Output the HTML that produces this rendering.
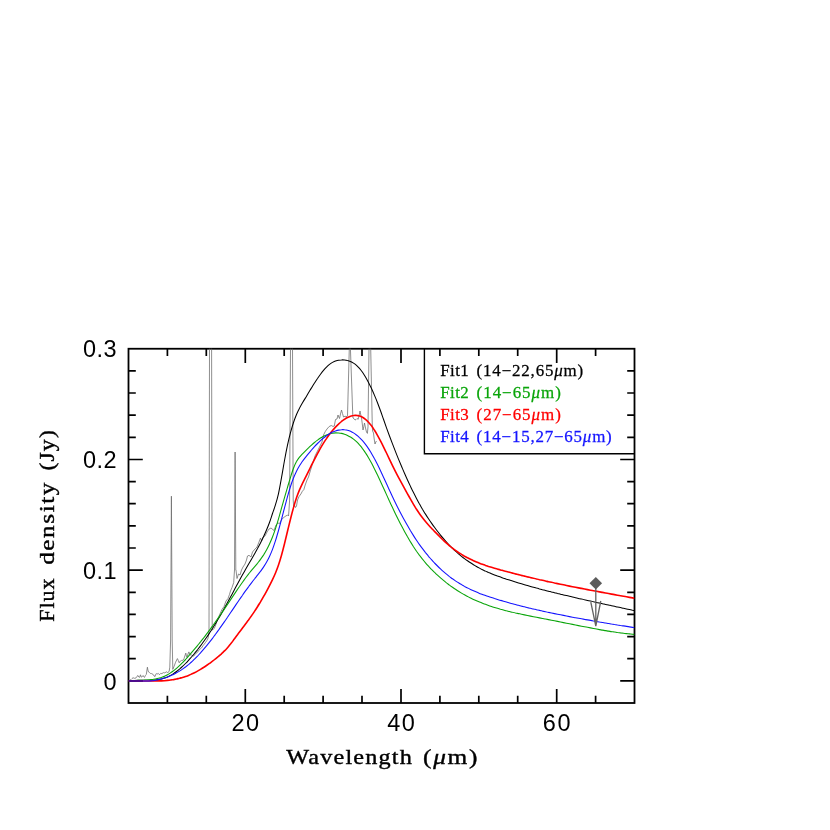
<!DOCTYPE html>
<html><head><meta charset="utf-8"><title>Flux density vs wavelength</title>
<style>html,body{margin:0;padding:0;background:#fff}svg{display:block;will-change:transform}text{font-family:"Liberation Sans",sans-serif}.tk{font-family:"Liberation Sans",sans-serif;font-size:23.5px;fill:#000}.ax{font-family:"Liberation Serif",serif;font-size:22px;fill:#000;stroke:#000;stroke-width:0.4px}.lg{font-family:"Liberation Serif",serif;font-size:16px;stroke-width:0.25px}</style></head><body>
<svg width="830" height="830" viewBox="0 0 830 830">
<rect width="830" height="830" fill="#fff"/>
<defs><clipPath id="c"><rect x="128.5" y="348.75" width="506.0" height="354.25"/></clipPath></defs>
<path d="M167.4 348.8v7.3M167.4 703v-7.3M206.3 348.8v7.3M206.3 703v-7.3M245.3 348.8v14.1M245.3 703v-14.1M284.2 348.8v7.3M284.2 703v-7.3M323.1 348.8v7.3M323.1 703v-7.3M362 348.8v7.3M362 703v-7.3M401 348.8v14.1M401 703v-14.1M439.9 348.8v7.3M439.9 703v-7.3M478.8 348.8v7.3M478.8 703v-7.3M517.7 348.8v7.3M517.7 703v-7.3M556.7 348.8v14.1M556.7 703v-14.1M595.6 348.8v7.3M595.6 703v-7.3M128.5 680.9h14.3M634.5 680.9h-14.3M128.5 658.7h7.3M634.5 658.7h-7.3M128.5 636.6h7.3M634.5 636.6h-7.3M128.5 614.4h7.3M634.5 614.4h-7.3M128.5 592.3h7.3M634.5 592.3h-7.3M128.5 570.2h14.3M634.5 570.2h-14.3M128.5 548h7.3M634.5 548h-7.3M128.5 525.9h7.3M634.5 525.9h-7.3M128.5 503.7h7.3M634.5 503.7h-7.3M128.5 481.6h7.3M634.5 481.6h-7.3M128.5 459.5h14.3M634.5 459.5h-14.3M128.5 437.3h7.3M634.5 437.3h-7.3M128.5 415.2h7.3M634.5 415.2h-7.3M128.5 393h7.3M634.5 393h-7.3M128.5 370.9h7.3M634.5 370.9h-7.3" stroke="#000" stroke-width="1.7" fill="none"/>
<rect x="128.5" y="348.75" width="506.0" height="354.25" fill="none" stroke="#000" stroke-width="1.8"/>
<g clip-path="url(#c)" fill="none" stroke-linejoin="round">
<path d="M129.3 680.6L131.1 679.5L132 678.6L133 677.7L134.4 678.3L135.8 678.1L137 676.3L138 675.5L138.8 677L139.5 677.4L140.5 674.8L141.2 677.2L141.8 677L143.1 675.5L143.8 676.8L144.5 677.4L145.4 675.4L146.3 674.5L147.4 667.2L147.9 670L148.5 671.9L149.4 672.4L150.3 673.4L151.6 673.6L153.2 674.5L154.1 676L155 676.6L155.6 674.6L156.1 673.7L157.2 674L158.3 673.4L159 674.4L159.7 674.5L160.8 673.3L161.9 673.7L163.3 672.6L164.8 673L165.8 672L166.9 671.9L167.6 672.6L168.4 672.3L169.2 671L169.8 667.2L170.6 640L171.4 496.2L172.2 640L172.8 669.4L174 666.5L175.6 662.2L177.4 658.6L178.3 660.5L179.2 662.8L180.4 661L181.6 660.4L182.8 660.4L184 658.6L185.8 653.1L186.4 656L187 657.3L188 654L188.9 651.9L190 654.9L191.5 655L193.7 656.1L195.5 653.6L197.3 652.5L199.5 649.5L201.5 648L203.3 645.3L205.5 642.5L206.8 640.6L208.1 638L209 632L209.5 348L211.6 348L212.2 630L213.2 629.5L214.2 628.4L215.2 626.5L217 621L219.5 615L221.9 609.6L224 606.5L226 601L228 598.5L229.5 594.4L230.5 591L232 587.5L233.7 582.6L234.5 570L235.1 452L235.8 570L236 570L237 578.5L238.5 574L240 575L241.5 570L243 567L245 564L246.5 560L247.5 556L249 555.3L251 557L252.5 552L255 549L257 547L259 542L260.5 538L261.5 541L263 537L265 536L267 532L269 529L271 528L274 530.5L276 525L278 523L279.5 523.5L282 519L285 516.5L287.5 515L288.5 516L289 510L289.6 500L290.5 348L292.5 348L293.2 500L293.7 507L294.4 505L295.5 507.5L296.5 506L297.5 500L299 496.6L300.9 494L302.4 491.2L303.8 489.7L305.2 485L307 480L308.5 477L310.3 470.9L312 465.5L315 456L318 450L320 446L322 442L323.5 435L325.4 431.3L327 429L328.5 427.2L330 426L331.6 425.6L333 426.5L334.3 426L335.5 419.5L337 419L338 415L338.8 417L339.5 418.5L340.5 414L341.5 410L342.5 413.5L343.5 417L345 416.3L347 416.5L347.5 415.9L349.3 348L350.4 348L352.8 415.9L353 418L354 418.6L355 420L356 419.6L357 418.5L358.2 419.3L359.2 415L360 411L360.8 415L361.5 418L362.3 424L363 430L363.8 426.5L364.5 423L365.5 428L366.5 432L367.4 433.4L368 426.8L369 348L370.7 348L372.3 426.8L372.6 431L373.5 433L374.2 439L375 444L375.8 442L376.5 441" stroke="#686868" stroke-width="0.75"/>
<path d="M128.5 680.9C129 680.8 130.5 680.7 131.5 680.6C132.5 680.5 133.5 680.4 134.5 680.4C135.5 680.3 136.5 680.3 137.5 680.3C138.5 680.3 139.5 680.3 140.5 680.3C141.5 680.3 142.5 680.3 143.5 680.3C144.5 680.3 145.5 680.3 146.5 680.3C147.5 680.3 148.5 680.3 149.5 680.3C150.5 680.3 151.5 680.2 152.5 680.2C153.5 680.1 154.5 680 155.5 679.9C156.5 679.8 157.5 679.7 158.5 679.5C159.5 679.3 160.5 679.1 161.5 678.9C162.5 678.7 163.5 678.4 164.5 678C165.5 677.7 166.5 677.3 167.5 676.9C168.5 676.5 169.5 676 170.5 675.4C171.5 674.9 172.5 674.3 173.5 673.6C174.5 673 175.5 672.3 176.5 671.5C177.5 670.7 178.5 669.9 179.5 669.1C180.5 668.2 181.5 667.3 182.5 666.4C183.5 665.5 184.5 664.5 185.5 663.5C186.5 662.5 187.5 661.4 188.5 660.3C189.5 659.2 190.5 658.1 191.5 657C192.5 655.9 193.5 654.7 194.5 653.5C195.5 652.3 196.5 651 197.5 649.8C198.5 648.5 199.5 647.2 200.5 645.9C201.5 644.6 202.5 643.2 203.5 641.8C204.5 640.4 205.5 639 206.5 637.5C207.5 636.1 208.5 634.6 209.5 633.1C210.5 631.6 211.5 630 212.5 628.5C213.5 626.9 214.5 625.3 215.5 623.6C216.5 622 217.5 620.3 218.5 618.6C219.5 616.9 220.5 615.2 221.5 613.4C222.5 611.7 223.5 609.9 224.5 608.1C225.5 606.3 226.5 604.4 227.5 602.6C228.5 600.7 229.5 598.9 230.5 597C231.5 595.2 232.5 593.3 233.5 591.4C234.5 589.5 235.5 587.7 236.5 585.8C237.5 584 238.5 582.1 239.5 580.3C240.5 578.4 241.5 576.6 242.5 574.8C243.5 573 244.5 571.3 245.5 569.5C246.5 567.8 247.5 566.1 248.5 564.3C249.5 562.6 250.5 560.9 251.5 559.2C252.5 557.5 253.5 555.8 254.5 554C255.5 552.2 256.5 550.4 257.5 548.6C258.5 546.7 259.5 544.8 260.5 542.9C261.5 540.9 262.5 538.9 263.5 536.7C264.5 534.6 265.5 532.4 266.5 530C267.5 527.7 268.5 525.2 269.5 522.5C270.5 519.7 271.5 516.5 272.5 513.5C273.5 510.6 274.5 508.1 275.5 504.7C276.5 501.4 277.5 498.1 278.5 493.6C279.5 489.1 280.5 483.3 281.5 477.7C282.5 472.2 283.5 465.9 284.5 460.5C285.5 455.1 286.5 449.9 287.5 445.2C288.5 440.6 289.5 436.4 290.5 432.7C291.5 428.9 292.5 425.6 293.5 422.5C294.5 419.5 295.5 416.9 296.5 414.5C297.5 412.1 298.5 410.1 299.5 408.2C300.5 406.2 301.5 404.6 302.5 402.8C303.5 401.1 304.5 399.5 305.5 397.9C306.5 396.2 307.5 394.5 308.5 392.8C309.5 391.2 310.5 389.5 311.5 387.9C312.5 386.2 313.5 384.6 314.5 383C315.5 381.5 316.5 379.9 317.5 378.5C318.5 377 319.5 375.5 320.5 374.2C321.5 372.9 322.5 371.6 323.5 370.4C324.5 369.2 325.5 368.1 326.5 367.1C327.5 366.1 328.5 365.2 329.5 364.4C330.5 363.7 331.5 363 332.5 362.4C333.5 361.9 334.5 361.4 335.5 361C336.5 360.7 337.5 360.4 338.5 360.2C339.5 360 340.5 359.9 341.5 359.9C342.5 359.8 343.5 359.9 344.5 360C345.5 360.1 346.5 360.3 347.5 360.6C348.5 360.8 349.5 361.1 350.5 361.6C351.5 362 352.5 362.5 353.5 363.1C354.5 363.7 355.5 364.4 356.5 365.3C357.5 366.2 358.5 367.2 359.5 368.3C360.5 369.5 361.5 370.8 362.5 372.2C363.5 373.7 364.5 375.3 365.5 377C366.5 378.7 367.5 380.6 368.5 382.5C369.5 384.5 370.5 386.5 371.5 388.6C372.5 390.8 373.5 393 374.5 395.4C375.5 397.7 376.5 400.1 377.5 402.7C378.5 405.3 379.5 408 380.5 410.8C381.5 413.5 382.5 416.5 383.5 419.3C384.5 422.2 385.5 425 386.5 427.8C387.5 430.6 388.5 433.3 389.5 436C390.5 438.7 391.5 441.3 392.5 443.9C393.5 446.5 394.5 449.1 395.5 451.6C396.5 454.2 397.5 456.6 398.5 459.1C399.5 461.5 400.5 463.9 401.5 466.3C402.5 468.6 403.5 471 404.5 473.2C405.5 475.5 406.5 477.8 407.5 480C408.5 482.2 409.5 484.3 410.5 486.4C411.5 488.5 412.5 490.6 413.5 492.6C414.5 494.6 415.5 496.6 416.5 498.5C417.5 500.4 418.5 502.3 419.5 504.1C420.5 505.8 421.5 507.6 422.5 509.3C423.5 510.9 424.5 512.6 425.5 514.1C426.5 515.7 427.5 517.2 428.5 518.7C429.5 520.2 430.5 521.7 431.5 523.1C432.5 524.6 433.5 526 434.5 527.3C435.5 528.7 436.5 530 437.5 531.3C438.5 532.6 439.5 533.9 440.5 535.1C441.5 536.4 442.5 537.6 443.5 538.7C444.5 539.9 445.5 541 446.5 542.1C447.5 543.2 448.5 544.3 449.5 545.3C450.5 546.4 451.5 547.4 452.5 548.4C453.5 549.3 454.5 550.3 455.5 551.2C456.5 552.1 457.5 553 458.5 553.8C459.5 554.7 460.5 555.5 461.5 556.3C462.5 557.1 463.5 557.9 464.5 558.6C465.5 559.4 466.5 560.1 467.5 560.8C468.5 561.5 469.5 562.2 470.5 562.8C471.5 563.5 472.5 564.1 473.5 564.7C474.5 565.3 475.5 565.9 476.5 566.5C477.5 567.1 478.5 567.6 479.5 568.1C480.5 568.7 481.5 569.2 482.5 569.7C483.5 570.2 484.5 570.6 485.5 571.1C486.5 571.6 487.5 572 488.5 572.5C489.5 572.9 490.5 573.3 491.5 573.7C492.5 574.1 493.5 574.5 494.5 574.9C495.5 575.3 496.5 575.7 497.5 576.1C498.5 576.4 499.5 576.8 500.5 577.1C501.5 577.5 502.5 577.8 503.5 578.2C504.5 578.5 505.5 578.8 506.5 579.2C507.5 579.5 508.5 579.8 509.5 580.1C510.5 580.4 511.5 580.8 512.5 581.1C513.5 581.4 514.5 581.7 515.5 582C516.5 582.3 517.5 582.6 518.5 582.9C519.5 583.2 520.5 583.5 521.5 583.8C522.5 584.1 523.5 584.4 524.5 584.7C525.5 585 526.5 585.3 527.5 585.5C528.5 585.8 529.5 586.1 530.5 586.4C531.5 586.7 532.5 587 533.5 587.2C534.5 587.5 535.5 587.8 536.5 588.1C537.5 588.3 538.5 588.6 539.5 588.9C540.5 589.1 541.5 589.4 542.5 589.7C543.5 589.9 544.5 590.2 545.5 590.4C546.5 590.7 547.5 591 548.5 591.2C549.5 591.5 550.5 591.7 551.5 592C552.5 592.2 553.5 592.5 554.5 592.7C555.5 593 556.5 593.2 557.5 593.5C558.5 593.7 559.5 594 560.5 594.2C561.5 594.4 562.5 594.7 563.5 594.9C564.5 595.2 565.5 595.4 566.5 595.6C567.5 595.9 568.5 596.1 569.5 596.3C570.5 596.6 571.5 596.8 572.5 597C573.5 597.3 574.5 597.5 575.5 597.7C576.5 598 577.5 598.2 578.5 598.4C579.5 598.6 580.5 598.9 581.5 599.1C582.5 599.3 583.5 599.5 584.5 599.8C585.5 600 586.5 600.2 587.5 600.4C588.5 600.7 589.5 600.9 590.5 601.1C591.5 601.3 592.5 601.5 593.5 601.8C594.5 602 595.5 602.2 596.5 602.4C597.5 602.6 598.5 602.9 599.5 603.1C600.5 603.3 601.5 603.5 602.5 603.7C603.5 603.9 604.5 604.2 605.5 604.4C606.5 604.6 607.5 604.8 608.5 605C609.5 605.2 610.5 605.5 611.5 605.7C612.5 605.9 613.5 606.1 614.5 606.3C615.5 606.5 616.5 606.8 617.5 607C618.5 607.2 619.5 607.4 620.5 607.6C621.5 607.8 622.5 608.1 623.5 608.3C624.5 608.5 625.5 608.7 626.5 608.9C627.5 609.2 628.5 609.4 629.5 609.6C630.5 609.8 631.7 610.1 632.5 610.3C633.3 610.4 634.2 610.6 634.5 610.7" stroke="#000" stroke-width="1.05"/>
<path d="M128.5 680.9C129 680.9 130.5 680.7 131.5 680.6C132.5 680.6 133.5 680.5 134.5 680.5C135.5 680.4 136.5 680.4 137.5 680.4C138.5 680.3 139.5 680.3 140.5 680.3C141.5 680.3 142.5 680.2 143.5 680.2C144.5 680.2 145.5 680.1 146.5 680.1C147.5 680 148.5 679.9 149.5 679.8C150.5 679.7 151.5 679.6 152.5 679.5C153.5 679.4 154.5 679.2 155.5 679C156.5 678.8 157.5 678.6 158.5 678.3C159.5 678 160.5 677.7 161.5 677.4C162.5 677 163.5 676.7 164.5 676.2C165.5 675.8 166.5 675.3 167.5 674.7C168.5 674.2 169.5 673.6 170.5 672.9C171.5 672.3 172.5 671.5 173.5 670.8C174.5 670 175.5 669.2 176.5 668.3C177.5 667.4 178.5 666.5 179.5 665.6C180.5 664.6 181.5 663.6 182.5 662.6C183.5 661.6 184.5 660.5 185.5 659.5C186.5 658.4 187.5 657.3 188.5 656.1C189.5 655 190.5 653.9 191.5 652.7C192.5 651.6 193.5 650.4 194.5 649.2C195.5 648 196.5 646.8 197.5 645.6C198.5 644.4 199.5 643.1 200.5 641.9C201.5 640.6 202.5 639.3 203.5 638.1C204.5 636.8 205.5 635.5 206.5 634.1C207.5 632.8 208.5 631.5 209.5 630.1C210.5 628.8 211.5 627.4 212.5 626.1C213.5 624.7 214.5 623.3 215.5 621.9C216.5 620.5 217.5 619.1 218.5 617.6C219.5 616.2 220.5 614.8 221.5 613.3C222.5 611.8 223.5 610.4 224.5 608.9C225.5 607.4 226.5 605.9 227.5 604.4C228.5 602.9 229.5 601.4 230.5 599.9C231.5 598.4 232.5 596.9 233.5 595.4C234.5 593.9 235.5 592.4 236.5 590.9C237.5 589.4 238.5 587.9 239.5 586.5C240.5 585 241.5 583.6 242.5 582.2C243.5 580.8 244.5 579.4 245.5 578C246.5 576.7 247.5 575.4 248.5 574.1C249.5 572.9 250.5 571.6 251.5 570.4C252.5 569.2 253.5 568.1 254.5 566.9C255.5 565.7 256.5 564.5 257.5 563.3C258.5 562 259.5 560.8 260.5 559.4C261.5 558 262.5 556.6 263.5 555.1C264.5 553.5 265.5 551.8 266.5 550C267.5 548.2 268.5 546.2 269.5 544C270.5 541.8 271.5 539.5 272.5 537C273.5 534.4 274.5 531.6 275.5 528.6C276.5 525.6 277.5 522.3 278.5 518.9C279.5 515.5 280.5 511.8 281.5 508.2C282.5 504.7 283.5 501.1 284.5 497.6C285.5 494.1 286.5 490.7 287.5 487.3C288.5 483.9 289.5 480.4 290.5 477.3C291.5 474.1 292.5 470.9 293.5 468.3C294.5 465.6 295.5 463.4 296.5 461.6C297.5 459.7 298.5 458.5 299.5 457.2C300.5 455.9 301.5 454.9 302.5 453.8C303.5 452.8 304.5 451.8 305.5 450.8C306.5 449.8 307.5 448.8 308.5 447.9C309.5 446.9 310.5 446 311.5 445.1C312.5 444.2 313.5 443.3 314.5 442.5C315.5 441.6 316.5 440.8 317.5 440.1C318.5 439.3 319.5 438.6 320.5 438C321.5 437.4 322.5 436.8 323.5 436.3C324.5 435.8 325.5 435.3 326.5 434.9C327.5 434.5 328.5 434.2 329.5 433.9C330.5 433.6 331.5 433.4 332.5 433.2C333.5 433.1 334.5 433 335.5 432.9C336.5 432.9 337.5 432.9 338.5 433C339.5 433.1 340.5 433.2 341.5 433.4C342.5 433.6 343.5 433.9 344.5 434.2C345.5 434.5 346.5 434.9 347.5 435.4C348.5 435.9 349.5 436.4 350.5 437C351.5 437.6 352.5 438.3 353.5 439.1C354.5 439.9 355.5 440.8 356.5 441.7C357.5 442.7 358.5 443.7 359.5 444.9C360.5 446 361.5 447.2 362.5 448.6C363.5 449.9 364.5 451.3 365.5 452.9C366.5 454.4 367.5 456 368.5 457.7C369.5 459.5 370.5 461.3 371.5 463.1C372.5 465 373.5 467 374.5 469C375.5 471 376.5 473 377.5 475.1C378.5 477.2 379.5 479.4 380.5 481.5C381.5 483.7 382.5 485.9 383.5 488C384.5 490.2 385.5 492.4 386.5 494.6C387.5 496.8 388.5 499 389.5 501.2C390.5 503.3 391.5 505.5 392.5 507.6C393.5 509.7 394.5 511.8 395.5 513.9C396.5 515.9 397.5 517.9 398.5 519.9C399.5 521.9 400.5 523.9 401.5 525.8C402.5 527.7 403.5 529.6 404.5 531.4C405.5 533.2 406.5 535 407.5 536.8C408.5 538.5 409.5 540.2 410.5 541.9C411.5 543.5 412.5 545.1 413.5 546.7C414.5 548.2 415.5 549.7 416.5 551.2C417.5 552.6 418.5 554 419.5 555.3C420.5 556.7 421.5 557.9 422.5 559.2C423.5 560.4 424.5 561.6 425.5 562.8C426.5 564 427.5 565.1 428.5 566.2C429.5 567.3 430.5 568.3 431.5 569.4C432.5 570.4 433.5 571.4 434.5 572.4C435.5 573.3 436.5 574.3 437.5 575.2C438.5 576.1 439.5 577 440.5 577.9C441.5 578.8 442.5 579.6 443.5 580.4C444.5 581.3 445.5 582.1 446.5 582.9C447.5 583.6 448.5 584.4 449.5 585.1C450.5 585.9 451.5 586.6 452.5 587.3C453.5 588 454.5 588.7 455.5 589.3C456.5 590 457.5 590.7 458.5 591.3C459.5 591.9 460.5 592.5 461.5 593.1C462.5 593.7 463.5 594.3 464.5 594.8C465.5 595.4 466.5 595.9 467.5 596.4C468.5 597 469.5 597.5 470.5 598C471.5 598.5 472.5 598.9 473.5 599.4C474.5 599.9 475.5 600.3 476.5 600.7C477.5 601.2 478.5 601.6 479.5 602C480.5 602.4 481.5 602.8 482.5 603.2C483.5 603.6 484.5 604 485.5 604.3C486.5 604.7 487.5 605.1 488.5 605.4C489.5 605.8 490.5 606.1 491.5 606.4C492.5 606.8 493.5 607.1 494.5 607.4C495.5 607.7 496.5 608 497.5 608.3C498.5 608.6 499.5 608.9 500.5 609.2C501.5 609.4 502.5 609.7 503.5 610C504.5 610.3 505.5 610.5 506.5 610.8C507.5 611 508.5 611.3 509.5 611.5C510.5 611.8 511.5 612 512.5 612.3C513.5 612.5 514.5 612.7 515.5 613C516.5 613.2 517.5 613.4 518.5 613.6C519.5 613.9 520.5 614.1 521.5 614.3C522.5 614.5 523.5 614.7 524.5 614.9C525.5 615.1 526.5 615.3 527.5 615.5C528.5 615.7 529.5 615.9 530.5 616.1C531.5 616.3 532.5 616.5 533.5 616.7C534.5 616.9 535.5 617.1 536.5 617.3C537.5 617.5 538.5 617.7 539.5 617.9C540.5 618.1 541.5 618.3 542.5 618.5C543.5 618.7 544.5 618.8 545.5 619C546.5 619.2 547.5 619.4 548.5 619.6C549.5 619.8 550.5 620 551.5 620.2C552.5 620.4 553.5 620.6 554.5 620.8C555.5 621 556.5 621.2 557.5 621.4C558.5 621.6 559.5 621.8 560.5 622C561.5 622.2 562.5 622.4 563.5 622.6C564.5 622.8 565.5 623 566.5 623.2C567.5 623.4 568.5 623.6 569.5 623.8C570.5 624 571.5 624.2 572.5 624.4C573.5 624.6 574.5 624.8 575.5 625C576.5 625.2 577.5 625.4 578.5 625.6C579.5 625.8 580.5 626 581.5 626.2C582.5 626.4 583.5 626.6 584.5 626.8C585.5 627 586.5 627.2 587.5 627.3C588.5 627.5 589.5 627.7 590.5 627.9C591.5 628.1 592.5 628.3 593.5 628.5C594.5 628.7 595.5 628.9 596.5 629C597.5 629.2 598.5 629.4 599.5 629.6C600.5 629.8 601.5 629.9 602.5 630.1C603.5 630.3 604.5 630.4 605.5 630.6C606.5 630.8 607.5 630.9 608.5 631.1C609.5 631.3 610.5 631.4 611.5 631.6C612.5 631.7 613.5 631.9 614.5 632C615.5 632.2 616.5 632.3 617.5 632.5C618.5 632.6 619.5 632.7 620.5 632.9C621.5 633 622.5 633.1 623.5 633.2C624.5 633.4 625.5 633.5 626.5 633.6C627.5 633.7 628.5 633.8 629.5 633.9C630.5 634 631.7 634.1 632.5 634.2C633.3 634.3 634.2 634.4 634.5 634.4" stroke="#0aa50a" stroke-width="1.08"/>
<path d="M128.5 680.9C129 680.9 130.5 680.8 131.5 680.8C132.5 680.8 133.5 680.8 134.5 680.8C135.5 680.9 136.5 680.9 137.5 680.9C138.5 680.9 139.5 680.9 140.5 680.9C141.5 680.9 142.5 680.9 143.5 680.9C144.5 680.9 145.5 680.9 146.5 680.9C147.5 680.9 148.5 680.9 149.5 680.9C150.5 680.9 151.5 680.9 152.5 680.9C153.5 680.9 154.5 680.9 155.5 680.9C156.5 680.9 157.5 680.9 158.5 680.9C159.5 680.9 160.5 680.9 161.5 680.9C162.5 680.8 163.5 680.7 164.5 680.7C165.5 680.6 166.5 680.5 167.5 680.4C168.5 680.3 169.5 680.2 170.5 680C171.5 679.9 172.5 679.7 173.5 679.6C174.5 679.4 175.5 679.2 176.5 679C177.5 678.8 178.5 678.5 179.5 678.3C180.5 678 181.5 677.8 182.5 677.5C183.5 677.2 184.5 676.9 185.5 676.5C186.5 676.2 187.5 675.8 188.5 675.4C189.5 675 190.5 674.6 191.5 674.1C192.5 673.7 193.5 673.2 194.5 672.7C195.5 672.2 196.5 671.7 197.5 671.1C198.5 670.6 199.5 670 200.5 669.4C201.5 668.8 202.5 668.2 203.5 667.5C204.5 666.9 205.5 666.2 206.5 665.5C207.5 664.8 208.5 664.1 209.5 663.4C210.5 662.7 211.5 661.9 212.5 661.2C213.5 660.4 214.5 659.6 215.5 658.8C216.5 658 217.5 657.2 218.5 656.4C219.5 655.5 220.5 654.7 221.5 653.8C222.5 652.8 223.5 651.9 224.5 650.9C225.5 649.9 226.5 648.8 227.5 647.7C228.5 646.6 229.5 645.3 230.5 644.1C231.5 642.8 232.5 641.5 233.5 640.1C234.5 638.8 235.5 637.4 236.5 636C237.5 634.7 238.5 633.3 239.5 632C240.5 630.7 241.5 629.4 242.5 628C243.5 626.7 244.5 625.4 245.5 624C246.5 622.7 247.5 621.3 248.5 620C249.5 618.6 250.5 617.2 251.5 615.8C252.5 614.3 253.5 612.9 254.5 611.4C255.5 609.9 256.5 608.3 257.5 606.7C258.5 605.2 259.5 603.5 260.5 601.9C261.5 600.2 262.5 598.5 263.5 596.7C264.5 595 265.5 593.2 266.5 591.3C267.5 589.5 268.5 587.6 269.5 585.6C270.5 583.7 271.5 581.7 272.5 579.6C273.5 577.5 274.5 575.4 275.5 573C276.5 570.5 277.5 568 278.5 565C279.5 562 280.5 558.7 281.5 555.2C282.5 551.6 283.5 547.7 284.5 543.7C285.5 539.7 286.5 535.5 287.5 531.3C288.5 527.2 289.5 523 290.5 519C291.5 515.1 292.5 511.1 293.5 507.6C294.5 504 295.5 500.8 296.5 497.8C297.5 494.9 298.5 492.3 299.5 489.9C300.5 487.5 301.5 485.4 302.5 483.3C303.5 481.2 304.5 479.3 305.5 477.3C306.5 475.3 307.5 473.3 308.5 471.3C309.5 469.3 310.5 467.2 311.5 465.2C312.5 463.2 313.5 461.2 314.5 459.3C315.5 457.4 316.5 455.5 317.5 453.6C318.5 451.8 319.5 449.9 320.5 448.2C321.5 446.5 322.5 444.8 323.5 443.2C324.5 441.6 325.5 440 326.5 438.6C327.5 437.1 328.5 435.7 329.5 434.3C330.5 433 331.5 431.7 332.5 430.5C333.5 429.3 334.5 428.2 335.5 427.1C336.5 426 337.5 425 338.5 424.1C339.5 423.1 340.5 422.3 341.5 421.5C342.5 420.7 343.5 419.9 344.5 419.3C345.5 418.6 346.5 418 347.5 417.5C348.5 417 349.5 416.6 350.5 416.2C351.5 415.9 352.5 415.6 353.5 415.5C354.5 415.3 355.5 415.3 356.5 415.4C357.5 415.4 358.5 415.6 359.5 415.9C360.5 416.2 361.5 416.6 362.5 417.2C363.5 417.8 364.5 418.5 365.5 419.3C366.5 420.1 367.5 421.1 368.5 422.2C369.5 423.3 370.5 424.5 371.5 425.8C372.5 427.2 373.5 428.7 374.5 430.3C375.5 431.8 376.5 433.5 377.5 435.3C378.5 437.1 379.5 439 380.5 440.9C381.5 442.8 382.5 444.8 383.5 446.8C384.5 448.9 385.5 451 386.5 453C387.5 455.1 388.5 457.2 389.5 459.3C390.5 461.4 391.5 463.5 392.5 465.6C393.5 467.6 394.5 469.6 395.5 471.6C396.5 473.6 397.5 475.5 398.5 477.3C399.5 479.2 400.5 481 401.5 482.9C402.5 484.7 403.5 486.5 404.5 488.3C405.5 490.2 406.5 492 407.5 493.8C408.5 495.6 409.5 497.4 410.5 499.2C411.5 501 412.5 502.7 413.5 504.4C414.5 506.1 415.5 507.7 416.5 509.3C417.5 510.8 418.5 512.3 419.5 513.7C420.5 515.2 421.5 516.5 422.5 517.8C423.5 519.1 424.5 520.4 425.5 521.6C426.5 522.8 427.5 523.9 428.5 525C429.5 526.1 430.5 527.2 431.5 528.2C432.5 529.3 433.5 530.3 434.5 531.4C435.5 532.4 436.5 533.4 437.5 534.4C438.5 535.5 439.5 536.5 440.5 537.5C441.5 538.5 442.5 539.5 443.5 540.4C444.5 541.4 445.5 542.3 446.5 543.2C447.5 544.1 448.5 545 449.5 545.8C450.5 546.6 451.5 547.4 452.5 548.2C453.5 549 454.5 549.7 455.5 550.4C456.5 551.1 457.5 551.8 458.5 552.5C459.5 553.1 460.5 553.8 461.5 554.4C462.5 555 463.5 555.6 464.5 556.2C465.5 556.7 466.5 557.3 467.5 557.8C468.5 558.3 469.5 558.8 470.5 559.3C471.5 559.8 472.5 560.3 473.5 560.7C474.5 561.2 475.5 561.6 476.5 562C477.5 562.4 478.5 562.8 479.5 563.2C480.5 563.6 481.5 564 482.5 564.3C483.5 564.7 484.5 565 485.5 565.4C486.5 565.7 487.5 566 488.5 566.4C489.5 566.7 490.5 567 491.5 567.3C492.5 567.6 493.5 567.9 494.5 568.2C495.5 568.5 496.5 568.8 497.5 569.1C498.5 569.3 499.5 569.6 500.5 569.9C501.5 570.2 502.5 570.4 503.5 570.7C504.5 571 505.5 571.3 506.5 571.5C507.5 571.8 508.5 572.1 509.5 572.3C510.5 572.6 511.5 572.9 512.5 573.1C513.5 573.4 514.5 573.6 515.5 573.9C516.5 574.1 517.5 574.4 518.5 574.6C519.5 574.9 520.5 575.1 521.5 575.4C522.5 575.6 523.5 575.9 524.5 576.1C525.5 576.4 526.5 576.6 527.5 576.9C528.5 577.1 529.5 577.3 530.5 577.6C531.5 577.8 532.5 578 533.5 578.3C534.5 578.5 535.5 578.7 536.5 579C537.5 579.2 538.5 579.4 539.5 579.7C540.5 579.9 541.5 580.1 542.5 580.3C543.5 580.6 544.5 580.8 545.5 581C546.5 581.2 547.5 581.5 548.5 581.7C549.5 581.9 550.5 582.1 551.5 582.3C552.5 582.5 553.5 582.7 554.5 583C555.5 583.2 556.5 583.4 557.5 583.6C558.5 583.8 559.5 584 560.5 584.2C561.5 584.4 562.5 584.6 563.5 584.8C564.5 585.1 565.5 585.3 566.5 585.5C567.5 585.7 568.5 585.9 569.5 586.1C570.5 586.3 571.5 586.5 572.5 586.7C573.5 586.9 574.5 587.1 575.5 587.3C576.5 587.5 577.5 587.7 578.5 587.9C579.5 588.1 580.5 588.2 581.5 588.4C582.5 588.6 583.5 588.8 584.5 589C585.5 589.2 586.5 589.4 587.5 589.6C588.5 589.8 589.5 590 590.5 590.2C591.5 590.4 592.5 590.6 593.5 590.7C594.5 590.9 595.5 591.1 596.5 591.3C597.5 591.5 598.5 591.7 599.5 591.9C600.5 592.1 601.5 592.2 602.5 592.4C603.5 592.6 604.5 592.8 605.5 593C606.5 593.2 607.5 593.4 608.5 593.5C609.5 593.7 610.5 593.9 611.5 594.1C612.5 594.3 613.5 594.5 614.5 594.6C615.5 594.8 616.5 595 617.5 595.2C618.5 595.4 619.5 595.6 620.5 595.7C621.5 595.9 622.5 596.1 623.5 596.3C624.5 596.5 625.5 596.7 626.5 596.8C627.5 597 628.5 597.2 629.5 597.4C630.5 597.6 631.7 597.8 632.5 597.9C633.3 598.1 634.2 598.3 634.5 598.3" stroke="#ff0000" stroke-width="1.6"/>
<path d="M128.5 680.8C129 680.8 130.5 680.9 131.5 680.9C132.5 680.9 133.5 680.9 134.5 680.9C135.5 680.9 136.5 680.9 137.5 680.9C138.5 680.9 139.5 680.9 140.5 680.9C141.5 680.9 142.5 680.9 143.5 680.9C144.5 680.9 145.5 680.9 146.5 680.9C147.5 680.9 148.5 680.9 149.5 680.9C150.5 680.9 151.5 680.8 152.5 680.7C153.5 680.5 154.5 680.4 155.5 680.2C156.5 680 157.5 679.8 158.5 679.6C159.5 679.4 160.5 679.1 161.5 678.9C162.5 678.6 163.5 678.3 164.5 678C165.5 677.7 166.5 677.3 167.5 677C168.5 676.6 169.5 676.2 170.5 675.8C171.5 675.3 172.5 674.9 173.5 674.4C174.5 673.9 175.5 673.4 176.5 672.8C177.5 672.3 178.5 671.7 179.5 671.1C180.5 670.5 181.5 669.8 182.5 669.1C183.5 668.4 184.5 667.7 185.5 667C186.5 666.2 187.5 665.4 188.5 664.6C189.5 663.7 190.5 662.9 191.5 662C192.5 661 193.5 660.1 194.5 659.1C195.5 658.1 196.5 657.1 197.5 656.1C198.5 655 199.5 654 200.5 652.9C201.5 651.7 202.5 650.6 203.5 649.4C204.5 648.3 205.5 647.1 206.5 645.9C207.5 644.7 208.5 643.4 209.5 642.1C210.5 640.9 211.5 639.6 212.5 638.3C213.5 637 214.5 635.6 215.5 634.3C216.5 632.9 217.5 631.5 218.5 630.2C219.5 628.8 220.5 627.4 221.5 625.9C222.5 624.5 223.5 623.1 224.5 621.6C225.5 620.2 226.5 618.7 227.5 617.3C228.5 615.8 229.5 614.3 230.5 612.8C231.5 611.4 232.5 609.9 233.5 608.4C234.5 606.9 235.5 605.4 236.5 603.9C237.5 602.5 238.5 601 239.5 599.5C240.5 598.1 241.5 596.6 242.5 595.2C243.5 593.7 244.5 592.3 245.5 590.9C246.5 589.5 247.5 588.1 248.5 586.8C249.5 585.4 250.5 584.1 251.5 582.8C252.5 581.5 253.5 580.2 254.5 579C255.5 577.7 256.5 576.5 257.5 575.2C258.5 573.9 259.5 572.7 260.5 571.3C261.5 570 262.5 568.6 263.5 567.1C264.5 565.6 265.5 564.1 266.5 562.3C267.5 560.5 268.5 558.7 269.5 556.5C270.5 554.4 271.5 552 272.5 549.4C273.5 546.8 274.5 543.8 275.5 540.7C276.5 537.5 277.5 534 278.5 530.5C279.5 526.9 280.5 523.1 281.5 519.3C282.5 515.6 283.5 511.7 284.5 507.9C285.5 504.1 286.5 500.3 287.5 496.7C288.5 493.1 289.5 489.6 290.5 486.5C291.5 483.4 292.5 480.5 293.5 478C294.5 475.4 295.5 473.3 296.5 471.2C297.5 469.2 298.5 467.5 299.5 465.8C300.5 464.2 301.5 462.8 302.5 461.3C303.5 459.9 304.5 458.7 305.5 457.4C306.5 456.1 307.5 454.8 308.5 453.6C309.5 452.4 310.5 451.2 311.5 450C312.5 448.8 313.5 447.7 314.5 446.6C315.5 445.5 316.5 444.5 317.5 443.5C318.5 442.5 319.5 441.5 320.5 440.6C321.5 439.7 322.5 438.8 323.5 438C324.5 437.2 325.5 436.4 326.5 435.7C327.5 435 328.5 434.3 329.5 433.7C330.5 433.1 331.5 432.6 332.5 432.1C333.5 431.7 334.5 431.2 335.5 430.9C336.5 430.6 337.5 430.3 338.5 430.1C339.5 429.9 340.5 429.7 341.5 429.7C342.5 429.6 343.5 429.6 344.5 429.8C345.5 429.9 346.5 430 347.5 430.3C348.5 430.6 349.5 430.9 350.5 431.3C351.5 431.8 352.5 432.3 353.5 432.9C354.5 433.5 355.5 434.2 356.5 435C357.5 435.7 358.5 436.6 359.5 437.6C360.5 438.5 361.5 439.6 362.5 440.7C363.5 441.8 364.5 443.1 365.5 444.4C366.5 445.7 367.5 447.1 368.5 448.6C369.5 450.1 370.5 451.8 371.5 453.4C372.5 455.1 373.5 456.9 374.5 458.8C375.5 460.6 376.5 462.6 377.5 464.6C378.5 466.6 379.5 468.6 380.5 470.7C381.5 472.8 382.5 475 383.5 477.2C384.5 479.3 385.5 481.6 386.5 483.8C387.5 485.9 388.5 488.2 389.5 490.3C390.5 492.5 391.5 494.6 392.5 496.7C393.5 498.8 394.5 500.9 395.5 502.9C396.5 505 397.5 507 398.5 508.9C399.5 510.9 400.5 512.8 401.5 514.7C402.5 516.6 403.5 518.5 404.5 520.3C405.5 522.1 406.5 523.9 407.5 525.6C408.5 527.4 409.5 529.1 410.5 530.8C411.5 532.4 412.5 534 413.5 535.6C414.5 537.2 415.5 538.7 416.5 540.2C417.5 541.7 418.5 543.2 419.5 544.6C420.5 546 421.5 547.4 422.5 548.7C423.5 550 424.5 551.3 425.5 552.6C426.5 553.8 427.5 555.1 428.5 556.3C429.5 557.4 430.5 558.6 431.5 559.7C432.5 560.8 433.5 561.9 434.5 563C435.5 564 436.5 565 437.5 566C438.5 567 439.5 568 440.5 568.9C441.5 569.9 442.5 570.8 443.5 571.6C444.5 572.5 445.5 573.4 446.5 574.2C447.5 575 448.5 575.8 449.5 576.6C450.5 577.3 451.5 578.1 452.5 578.8C453.5 579.5 454.5 580.2 455.5 580.9C456.5 581.5 457.5 582.2 458.5 582.8C459.5 583.5 460.5 584.1 461.5 584.6C462.5 585.2 463.5 585.8 464.5 586.4C465.5 586.9 466.5 587.4 467.5 587.9C468.5 588.5 469.5 589 470.5 589.4C471.5 589.9 472.5 590.4 473.5 590.8C474.5 591.3 475.5 591.7 476.5 592.1C477.5 592.6 478.5 593 479.5 593.4C480.5 593.8 481.5 594.1 482.5 594.5C483.5 594.9 484.5 595.2 485.5 595.6C486.5 596 487.5 596.3 488.5 596.6C489.5 597 490.5 597.3 491.5 597.6C492.5 597.9 493.5 598.2 494.5 598.6C495.5 598.9 496.5 599.2 497.5 599.5C498.5 599.8 499.5 600.1 500.5 600.4C501.5 600.6 502.5 600.9 503.5 601.2C504.5 601.5 505.5 601.8 506.5 602.1C507.5 602.4 508.5 602.6 509.5 602.9C510.5 603.2 511.5 603.5 512.5 603.7C513.5 604 514.5 604.3 515.5 604.5C516.5 604.8 517.5 605 518.5 605.3C519.5 605.6 520.5 605.8 521.5 606.1C522.5 606.3 523.5 606.6 524.5 606.8C525.5 607.1 526.5 607.3 527.5 607.6C528.5 607.8 529.5 608.1 530.5 608.3C531.5 608.5 532.5 608.8 533.5 609C534.5 609.2 535.5 609.5 536.5 609.7C537.5 609.9 538.5 610.2 539.5 610.4C540.5 610.6 541.5 610.8 542.5 611.1C543.5 611.3 544.5 611.5 545.5 611.7C546.5 611.9 547.5 612.1 548.5 612.4C549.5 612.6 550.5 612.8 551.5 613C552.5 613.2 553.5 613.4 554.5 613.6C555.5 613.8 556.5 614 557.5 614.2C558.5 614.4 559.5 614.6 560.5 614.8C561.5 615 562.5 615.2 563.5 615.4C564.5 615.6 565.5 615.8 566.5 616C567.5 616.2 568.5 616.4 569.5 616.6C570.5 616.8 571.5 617 572.5 617.2C573.5 617.4 574.5 617.5 575.5 617.7C576.5 617.9 577.5 618.1 578.5 618.3C579.5 618.5 580.5 618.7 581.5 618.8C582.5 619 583.5 619.2 584.5 619.4C585.5 619.5 586.5 619.7 587.5 619.9C588.5 620.1 589.5 620.3 590.5 620.4C591.5 620.6 592.5 620.8 593.5 621C594.5 621.1 595.5 621.3 596.5 621.5C597.5 621.6 598.5 621.8 599.5 622C600.5 622.1 601.5 622.3 602.5 622.5C603.5 622.7 604.5 622.8 605.5 623C606.5 623.2 607.5 623.3 608.5 623.5C609.5 623.7 610.5 623.8 611.5 624C612.5 624.1 613.5 624.3 614.5 624.5C615.5 624.6 616.5 624.8 617.5 625C618.5 625.1 619.5 625.3 620.5 625.5C621.5 625.6 622.5 625.8 623.5 625.9C624.5 626.1 625.5 626.3 626.5 626.4C627.5 626.6 628.5 626.8 629.5 626.9C630.5 627.1 631.7 627.3 632.5 627.4C633.3 627.5 634.2 627.7 634.5 627.7" stroke="#1414ff" stroke-width="1.08"/>
<path d="M128.5 680.9H143" stroke="#4b0a8c" stroke-width="1.9"/><path d="M143 680.9H149.5" stroke="#6a22ae" stroke-width="1.6"/>
</g>
<path d="M595.8 583.2L595.8 626M590.8 602.2L595.8 626L600.8 601" fill="none" stroke="#626262" stroke-width="1.3" stroke-linejoin="miter"/>
<path d="M595.8 576.9000000000001L602.0999999999999 583.2L595.8 589.5L589.5 583.2Z" fill="#5c5c5c"/>
<path d="M424.4 348.75V453.7H634.5" fill="none" stroke="#000" stroke-width="1.4"/>
<text class="lg" transform="translate(440.2 375.7) scale(1.06 1)" fill="#000" stroke="#000" textLength="27" lengthAdjust="spacing">Fit1</text>
<text class="lg" transform="translate(476.6 375.7) scale(1.06 1)" fill="#000" stroke="#000" textLength="100.6" lengthAdjust="spacing">(14−22,65<tspan font-style="italic">μ</tspan>m)</text>
<text class="lg" transform="translate(440.2 397.7) scale(1.06 1)" fill="#0aa50a" stroke="#0aa50a" textLength="27" lengthAdjust="spacing">Fit2</text>
<text class="lg" transform="translate(476.6 397.7) scale(1.06 1)" fill="#0aa50a" stroke="#0aa50a" textLength="79.5" lengthAdjust="spacing">(14−65<tspan font-style="italic">μ</tspan>m)</text>
<text class="lg" transform="translate(440.2 419.7) scale(1.06 1)" fill="#ff0000" stroke="#ff0000" textLength="27" lengthAdjust="spacing">Fit3</text>
<text class="lg" transform="translate(476.6 419.7) scale(1.06 1)" fill="#ff0000" stroke="#ff0000" textLength="79.5" lengthAdjust="spacing">(27−65<tspan font-style="italic">μ</tspan>m)</text>
<text class="lg" transform="translate(440.2 441.6) scale(1.06 1)" fill="#1414ff" stroke="#1414ff" textLength="27" lengthAdjust="spacing">Fit4</text>
<text class="lg" transform="translate(476.6 441.6) scale(1.06 1)" fill="#1414ff" stroke="#1414ff" textLength="127.5" lengthAdjust="spacing">(14−15,27−65<tspan font-style="italic">μ</tspan>m)</text>
<text class="tk" x="117.2" y="689.6" text-anchor="end" letter-spacing="0.5">0</text>
<text class="tk" x="117.2" y="578.9" text-anchor="end" letter-spacing="0.5">0.1</text>
<text class="tk" x="117.2" y="468.2" text-anchor="end" letter-spacing="0.5">0.2</text>
<text class="tk" x="117.2" y="357.4" text-anchor="end" letter-spacing="0.5">0.3</text>
<text class="tk" x="246.1" y="731.2" text-anchor="middle" letter-spacing="1.6">20</text>
<text class="tk" x="401.8" y="731.2" text-anchor="middle" letter-spacing="1.6">40</text>
<text class="tk" x="557.5" y="731.2" text-anchor="middle" letter-spacing="1.6">60</text>
<text class="ax" transform="translate(286.2 764.1) scale(1.1 1)" x="0" y="0" textLength="114.2" lengthAdjust="spacing">Wavelength</text>
<text class="ax" transform="translate(423 764.1) scale(1.15 1)" x="0" y="0" textLength="47.3" lengthAdjust="spacing">(<tspan font-style="italic">μ</tspan>m)</text>
<text class="ax" transform="translate(54.2 621.8) rotate(-90) scale(1.0 1)" x="0" y="0" textLength="43.2" lengthAdjust="spacing">Flux</text>
<text class="ax" transform="translate(54.2 564.8) rotate(-90) scale(1.15 1)" x="0" y="0" textLength="71.5" lengthAdjust="spacing">density</text>
<text class="ax" transform="translate(54.2 470.6) rotate(-90) scale(1.08 1)" x="0" y="0" textLength="37.4" lengthAdjust="spacing">(Jy)</text>
</svg></body></html>
